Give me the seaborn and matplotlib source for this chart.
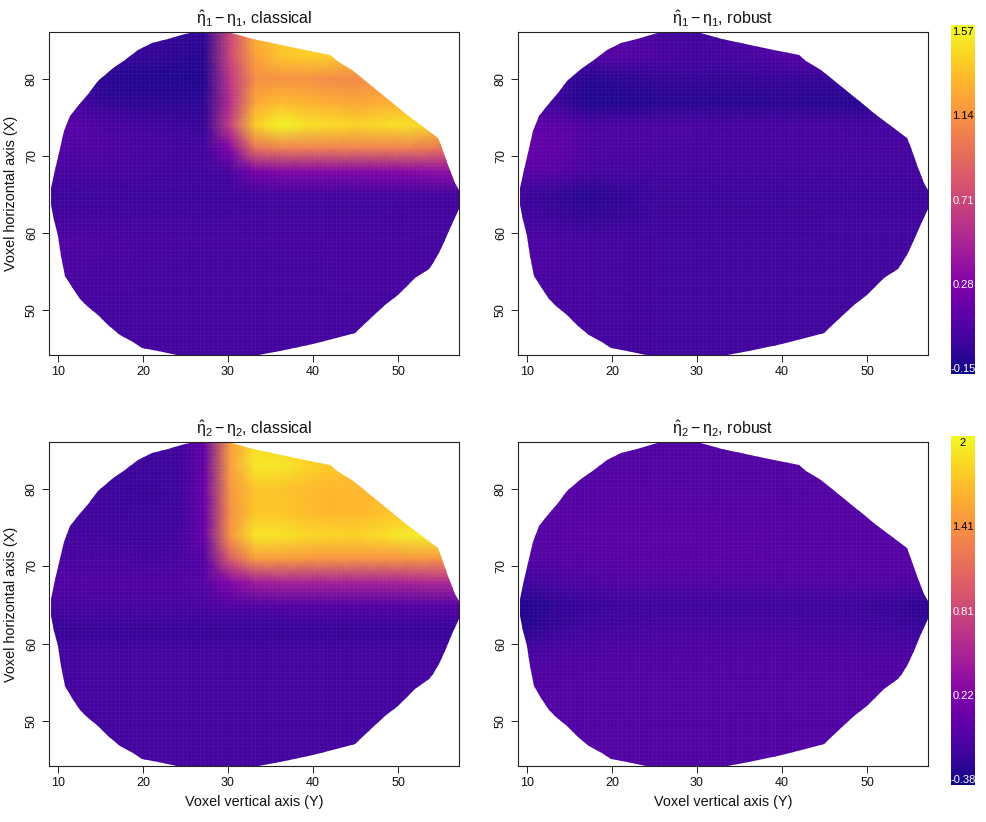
import numpy as np
import pandas as pd
import matplotlib
matplotlib.use("Agg")
import matplotlib.pyplot as plt
from matplotlib.cm import ScalarMappable
from matplotlib.colors import Normalize
from matplotlib.patches import Polygon
import seaborn as sns

sns.set_style("white")
plt.rcParams["font.family"] = ["Liberation Sans", "DejaVu Sans"]
plt.rcParams["mathtext.fontset"] = "custom"
plt.rcParams["mathtext.rm"] = "Liberation Sans"
plt.rcParams["mathtext.it"] = "Liberation Sans"
plt.rcParams["mathtext.bf"] = "Liberation Sans:bold"

# --------------------------------------------------
# Data
# --------------------------------------------------

# the classical panels have sharp edges, so they are read on a closer grid
y_nodes_fine = [9.2, 12.2, 15.2, 18.2, 21.2, 24.2, 27.2, 30.2, 33.2, 36.2, 39.2, 42.2, 45.2, 48.2, 51.2, 54.2, 57.2]
y_nodes = [9.2, 13.2, 17.2, 21.2, 25.2, 29.2, 33.2, 37.2, 41.2, 45.2, 49.2, 53.2, 57.2]
x_nodes = [86, 83, 80, 77, 74, 71, 68, 65, 62, 59, 56, 53, 50, 47, 44]

eta1_classical = [
    [.05, .05, .03, .02, .00, -.03, -.05, .70, 1.25, 1.38, 1.42, 1.40, 1.30, 1.20, 1.10, 1.10, 1.10],
    [.05, .05, .02, -.02, -.03, -.06, -.07, .70, 1.20, 1.35, 1.40, 1.40, 1.30, 1.20, 1.12, 1.10, 1.10],
    [.02, .00, -.06, -.09, -.09, -.10, -.09, .60, 1.10, 1.12, 1.12, 1.08, 1.08, 1.15, 1.15, 1.15, 1.10],
    [.05, .03, -.03, -.06, -.05, -.06, -.05, .55, 1.22, 1.32, 1.28, 1.25, 1.22, 1.25, 1.28, 1.25, 1.20],
    [.10, .10, .07, .04, .03, .00, -.02, .65, 1.40, 1.55, 1.48, 1.45, 1.42, 1.45, 1.48, 1.40, 1.25],
    [.10, .08, .08, .06, .05, .03, .03, .30, .95, 1.02, 1.02, 1.02, 1.02, 1.02, 1.02, .98, .90],
    [.05, .05, .05, .04, .03, .02, .02, .05, .25, .30, .30, .30, .30, .30, .32, .35, .35],
    [.00, .00, .00, .00, .00, .00, .00, .00, .02, .02, .02, .02, .02, .02, .02, .02, .02],
    [.03, .03, .03, .02, .02, .02, .02, .02, .02, .02, .02, .02, .02, .02, .03, .03, .03],
    [.09, .09, .07, .06, .05, .04, .04, .04, .04, .05, .05, .05, .05, .04, .04, .03, .03],
    [.06, .06, .05, .05, .04, .03, .03, .03, .03, .03, .03, .04, .05, .05, .04, .04, .04],
    [.05, .05, .04, .04, .03, .03, .03, .03, .03, .03, .03, .04, .04, .04, .04, .04, .04],
    [.04, .04, .03, .03, .03, .03, .03, .03, .03, .03, .03, .03, .03, .03, .03, .03, .03],
    [.04, .04, .03, .03, .03, .03, .03, .03, .03, .03, .03, .03, .03, .03, .03, .03, .03],
    [.03, .03, .03, .03, .03, .03, .03, .03, .03, .03, .03, .03, .03, .03, .03, .03, .03],
]

eta1_robust = [
    [.10, .10, .10, .10, .05, .02, .03, .05, .10, .10, .10, .10, .10],
    [.10, .10, .08, .10, .07, .03, .04, .06, .10, .12, .10, .10, .10],
    [.05, .03, -.08, -.05, -.03, -.02, -.03, -.02, -.02, -.03, .00, .02, .02],
    [.05, .00, -.10, -.10, -.08, -.07, -.07, -.07, -.06, -.08, -.07, -.05, .00],
    [.15, .13, .07, .06, .06, .06, .05, .05, .05, .05, .03, .03, .03],
    [.18, .15, .08, .07, .06, .05, .05, .05, .05, .04, .04, .04, .03],
    [.12, .10, .05, .04, .03, .03, .03, .03, .03, .03, .03, .03, .03],
    [.00, -.03, -.07, -.04, .00, .00, .00, .00, .00, .00, .00, .00, .00],
    [.03, .00, -.03, -.01, .01, .01, .01, .01, .01, .02, .02, .02, .02],
    [.08, .06, .04, .03, .02, .02, .02, .02, .02, .02, .02, .02, .02],
    [.08, .06, .04, .03, .02, .02, .02, .02, .02, .02, .02, .02, .02],
    [.06, .05, .04, .03, .02, .02, .02, .02, .02, .02, .02, .02, .02],
    [.05, .05, .04, .03, .02, .02, .02, .02, .02, .02, .02, .02, .02],
    [.04, .04, .04, .03, .02, .02, .02, .02, .02, .02, .02, .02, .02],
    [.04, .04, .04, .03, .02, .02, .02, .02, .02, .02, .02, .02, .02],
]

eta2_classical = [
    [-.15, -.15, -.15, -.15, -.15, -.15, .05, 1.45, 1.85, 1.80, 1.72, 1.65, 1.65, 1.60, 1.60, 1.60, 1.60],
    [-.15, -.15, -.16, -.17, -.17, -.16, .05, 1.45, 1.90, 1.90, 1.80, 1.72, 1.70, 1.70, 1.70, 1.70, 1.70],
    [-.15, -.15, -.16, -.18, -.18, -.16, .08, 1.40, 1.70, 1.70, 1.65, 1.62, 1.62, 1.65, 1.68, 1.70, 1.70],
    [-.15, -.15, -.15, -.17, -.17, -.15, .08, 1.35, 1.72, 1.72, 1.65, 1.62, 1.62, 1.68, 1.72, 1.78, 1.80],
    [-.13, -.13, -.14, -.15, -.15, -.13, .08, 1.40, 1.88, 1.88, 1.82, 1.80, 1.78, 1.85, 1.92, 1.98, 1.95],
    [-.10, -.10, -.10, -.11, -.12, -.10, -.03, .95, 1.45, 1.45, 1.42, 1.40, 1.40, 1.40, 1.40, 1.40, 1.40],
    [-.05, -.05, -.06, -.06, -.06, -.06, -.03, .25, .45, .50, .50, .50, .50, .50, .52, .55, .55],
    [-.10, -.10, -.10, -.10, -.10, -.10, -.10, -.06, -.05, -.04, -.04, -.04, -.04, -.04, -.04, -.03, -.03],
    [-.20, -.20, -.20, -.20, -.20, -.20, -.20, -.20, -.20, -.20, -.20, -.20, -.20, -.20, -.20, -.20, -.20],
    [-.12, -.12, -.12, -.12, -.12, -.12, -.12, -.12, -.12, -.12, -.12, -.12, -.12, -.12, -.12, -.12, -.12],
    [-.12, -.12, -.12, -.12, -.12, -.12, -.12, -.12, -.12, -.12, -.12, -.12, -.12, -.12, -.12, -.12, -.12],
    [-.12, -.12, -.12, -.12, -.12, -.12, -.12, -.12, -.12, -.12, -.12, -.12, -.12, -.12, -.12, -.12, -.12],
    [-.13, -.13, -.13, -.13, -.13, -.13, -.13, -.13, -.13, -.13, -.13, -.13, -.13, -.13, -.13, -.13, -.13],
    [-.13, -.13, -.13, -.13, -.13, -.13, -.13, -.13, -.13, -.13, -.13, -.13, -.13, -.13, -.13, -.13, -.13],
    [-.13, -.13, -.13, -.13, -.13, -.13, -.13, -.13, -.13, -.13, -.13, -.13, -.13, -.13, -.13, -.13, -.13],
]

eta2_robust = [
    [-.06, -.06, -.06, -.06, -.06, -.05, -.05, -.05, -.05, -.05, -.05, -.05, -.05],
    [-.05, -.05, -.05, -.05, -.05, -.05, -.05, -.05, -.05, -.05, -.05, -.05, -.05],
    [-.04, -.04, -.04, -.04, -.04, -.05, -.05, -.05, -.05, -.05, -.05, -.05, -.05],
    [-.03, -.03, -.02, -.01, -.01, -.02, -.03, -.03, -.04, -.04, -.04, -.04, -.04],
    [-.03, -.03, .00, .00, .00, .00, -.01, -.02, -.03, -.03, -.03, -.03, -.03],
    [-.05, -.04, -.02, -.01, -.01, -.01, -.01, -.02, -.03, -.03, -.03, -.03, -.03],
    [-.14, -.10, -.07, -.05, -.05, -.05, -.05, -.05, -.05, -.05, -.05, -.05, -.08],
    [-.32, -.24, -.19, -.17, -.16, -.16, -.16, -.16, -.16, -.16, -.17, -.20, -.26],
    [-.28, -.20, -.14, -.12, -.11, -.11, -.11, -.11, -.11, -.12, -.13, -.15, -.20],
    [-.12, -.08, -.07, -.06, -.06, -.06, -.06, -.06, -.06, -.07, -.07, -.08, -.10],
    [-.07, -.06, -.05, -.05, -.05, -.05, -.05, -.05, -.05, -.05, -.05, -.06, -.07],
    [-.06, -.05, -.05, -.05, -.05, -.05, -.05, -.05, -.05, -.05, -.05, -.05, -.06],
    [-.06, -.05, -.05, -.05, -.05, -.05, -.05, -.05, -.05, -.05, -.05, -.05, -.06],
    [-.06, -.05, -.05, -.05, -.05, -.05, -.05, -.05, -.05, -.05, -.05, -.05, -.06],
    [-.06, -.05, -.05, -.05, -.05, -.05, -.05, -.05, -.05, -.05, -.05, -.05, -.06],
]

# brain slice outline, going clockwise from the left tip
outline_y = [9.14, 9.65, 10.1, 10.75, 11.4, 12.4, 13.6, 14.75, 16.3, 17.9, 19.45, 21.0, 23.0,
             24.95, 26.1, 30.0, 33.0, 38.5, 42.0, 42.8, 44.55, 47.1, 51.0, 54.75, 55.1, 55.9,
             56.7, 57.2, 57.2, 56.3, 55.5, 54.8, 54.15, 53.6, 52.0, 50.0, 48.5, 46.9, 44.9,
             43.6, 40.0, 36.1, 33.0, 25.0, 24.0, 21.8, 19.85, 18.85, 17.3, 15.9, 14.75, 13.4,
             12.6, 11.6, 10.8, 10.4, 9.96, 9.57, 9.14]
outline_x = [65.8, 68.2, 70.4, 73.2, 75.2, 76.5, 78.2, 79.7, 81.3, 82.5, 83.8, 84.7, 85.2,
             85.85, 86.1, 86.1, 85.15, 83.9, 83.1, 82.4, 81.2, 79.0, 75.5, 72.4, 71.4, 68.8,
             66.5, 65.6, 63.2, 61.25, 59.1, 57.4, 56.1, 55.4, 54.2, 52.0, 50.65, 49.1, 47.0,
             46.6, 45.6, 44.7, 44.1, 44.1, 44.15, 44.7, 45.15, 45.9, 46.75, 48.05, 49.35, 50.6,
             51.5, 53.0, 54.5, 57.1, 59.7, 61.7, 63.6]

x_ticks = [10, 20, 30, 40, 50]
y_ticks = [50, 60, 70, 80]

panels = [
    (eta1_classical, y_nodes_fine, r"$\hat{\eta}_1 - \eta_1$, classical", 0, 0),
    (eta1_robust, y_nodes, r"$\hat{\eta}_1 - \eta_1$, robust", 0, 1),
    (eta2_classical, y_nodes_fine, r"$\hat{\eta}_2 - \eta_2$, classical", 1, 0),
    (eta2_robust, y_nodes, r"$\hat{\eta}_2 - \eta_2$, robust", 1, 1),
]

scale_limits = [(-0.15, 1.57), (-0.38, 2.0)]
scale_labels = [
    ["1.57", "1.14", "0.71", "0.28", "-0.15"],
    ["2", "1.41", "0.81", "0.22", "-0.38"],
]
scale_colors = ["black", "black", "white", "white", "white"]

# --------------------------------------------------
# Layout, in pixels of the 986x822 picture
# --------------------------------------------------

W, H = 986, 822
fig = plt.figure(figsize=(W / 100, H / 100), dpi=100, facecolor="white")

def add_axes_px(left, top, right, bottom):
    return fig.add_axes([left / W, 1 - bottom / H, (right - left) / W, (bottom - top) / H])

col_px = [(49, 459), (518, 928)]
row_px = [(32, 355), (442, 766)]
bar_px = [(25, 374), (436, 785)]

def row_pos(v):
    return (np.asarray(v, dtype=float) - x_nodes[-1]) / (x_nodes[0] - x_nodes[1])

def draw_panel(values, columns, title, row, col):
    left, right = col_px[col]
    top, bottom = row_px[row]
    ax = add_axes_px(left, top, right, bottom)
    vmin, vmax = scale_limits[row]

    def col_pos(v):
        return (np.asarray(v, dtype=float) - columns[0]) / (columns[1] - columns[0])

    table = pd.DataFrame(values, index=x_nodes, columns=columns).iloc[::-1]
    sns.heatmap(table, ax=ax, cmap="plasma", vmin=vmin, vmax=vmax, cbar=False,
                shading="gouraud", xticklabels=False, yticklabels=False)

    # only the voxels inside the slice are shown
    shape = Polygon(np.column_stack([col_pos(outline_y), row_pos(outline_x)]),
                    closed=True, transform=ax.transData, facecolor="none", edgecolor="none")
    ax.collections[0].set_clip_path(shape)

    # faint seams between the voxels
    seams_v = ax.vlines(col_pos(np.arange(9.25, 57.5, 0.5)), row_pos(44), row_pos(86.5),
                        colors="white", linewidths=0.35, alpha=0.07)
    seams_h = ax.hlines(row_pos(np.arange(44.25, 86.5, 0.5)), col_pos(9), col_pos(57.5),
                        colors="white", linewidths=0.35, alpha=0.07)
    for seams in (seams_v, seams_h):
        seams.set_snap(False)
        seams.set_clip_path(shape)

    ax.set_xlim(col_pos(8.94), col_pos(57.18))
    ax.set_ylim(row_pos(44.2), row_pos(86.1))

    ax.set_xticks(col_pos(x_ticks))
    ax.set_xticklabels(x_ticks, fontsize=9)
    ax.set_yticks(row_pos(y_ticks))
    ax.set_yticklabels(y_ticks, fontsize=9, rotation=90, va="center")
    ax.tick_params(length=5, width=0.7, color="#222222", labelcolor="#111111", pad=3,
                   bottom=True, left=True)

    for spine in ax.spines.values():
        spine.set_visible(True)
        spine.set_linewidth(0.8)
        spine.set_color("#222222")

    ax.set_title(title, fontsize=11.5, pad=5.5, color="#111111")
    ax.set_xlabel("Voxel vertical axis (Y)" if row == 1 else "", fontsize=10.4, labelpad=4, color="#111111")
    ax.set_ylabel("Voxel horizontal axis (X)" if col == 0 else "", fontsize=10.4, labelpad=6, color="#111111")

def draw_scale(row):
    top, bottom = bar_px[row]
    cax = add_axes_px(951, top, 975, bottom)
    vmin, vmax = scale_limits[row]
    # the bar runs a little past the first and last label
    per_px = (vmax - vmin) / (bottom - top - 12)
    lo, hi = vmin - 5 * per_px, vmax + 7 * per_px
    cb = fig.colorbar(ScalarMappable(Normalize(lo, hi), "plasma"), cax=cax)
    cb.set_ticks([])
    cb.outline.set_visible(False)
    label_values = np.linspace(vmax, vmin, len(scale_labels[row]))
    for v, text, color in zip(label_values, scale_labels[row], scale_colors):
        cax.text(0.5, v, text, color=color, fontsize=8, ha="center", va="center",
                 transform=cax.get_yaxis_transform(), clip_on=False)

for values, columns, title, row, col in panels:
    draw_panel(values, columns, title, row, col)

draw_scale(0)
draw_scale(1)

fig.savefig("out.png", dpi=100)
